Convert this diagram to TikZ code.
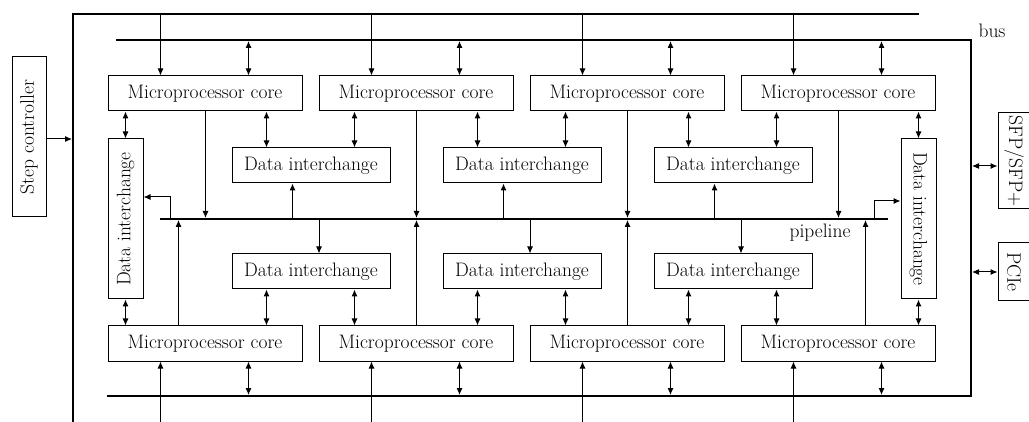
\documentclass[tikz,border=0pt]{standalone}
\usepackage{fontspec}
\setmainfont{Latin Modern Roman}
\usepackage{graphicx}
\usetikzlibrary{arrows.meta}
\begin{document}
\begin{tikzpicture}[x=1pt,y=-1pt,
  txt/.style={font=\fontsize{19.5}{22}\selectfont},
  box/.style={draw,line width=1pt,inner sep=0pt,txt},
  core/.style={box,minimum width=194pt,minimum height=35pt},
  dx/.style={box,minimum width=158pt,minimum height=35pt},
  vdx/.style={box,minimum width=35pt,minimum height=160pt},
  tip/.tip={Latex[length=7pt,width=6pt]},
  arr/.style={line width=1pt,-tip},
  bi/.style={line width=1pt,tip-tip},
  heavy/.style={line width=2.2pt},
  lbl/.style={txt,inner sep=0pt}]
\useasboundingbox (0,0) rectangle (1029,422);

% processor cores
\foreach \i/\x in {1/205,2/416,3/627,4/838}{
  \node[core] (ct\i) at (\x,93.5) {Microprocessor core};
  \node[core] (cb\i) at (\x,343.5) {Microprocessor core};
}
% data interchange blocks
\foreach \i/\x in {1/311,2/522,3/733}{
  \node[dx] (dt\i) at (\x,165.5) {Data interchange};
  \node[dx] (db\i) at (\x,271.5) {Data interchange};
}
\node[vdx] (dl) at (125.5,219) {\rotatebox{90}{Data interchange}};
\node[vdx] (dr) at (918.5,219) {\rotatebox{-90}{Data interchange}};
\node[box,minimum width=34pt,minimum height=160pt] (sc) at (29,137) {\rotatebox{90}{Step controller}};
\node[box,minimum width=32pt,minimum height=96pt] (sfp) at (1014,161) {\rotatebox{-90}{SFP/SFP+}};
\node[box,minimum width=32pt,minimum height=58pt] (pcie) at (1014,272) {\rotatebox{-90}{PCIe}};

% outer control line, bus and pipeline
\coordinate (oTop) at (919,14);
\coordinate (oCorner) at (73,14);
\coordinate (oBot) at (73,425);
\draw[heavy] (oBot) -- (oCorner) -- (oTop);
\coordinate (bA) at (116,40);
\coordinate (bB) at (971,40);
\coordinate (bC) at (971,396);
\coordinate (bD) at (107,396);
\draw[heavy] (bA) -- (bB) -- (bC) -- (bD);
\coordinate (pA) at (160,219);
\coordinate (pB) at (888,219);
\draw[heavy] (pA) -- (pB);

\node[lbl] (buslbl) at (992,31) {bus};
\node[lbl] (pipelbl) at (820,233) {pipeline};

% core links to control line, bus and pipeline
\foreach \i in {1,...,4}{
  \draw[arr,shorten <=-1pt] ([xshift=53pt]ct\i.north west |- oTop) -- ([xshift=53pt]ct\i.north west);
  \draw[bi,shorten <=1pt] ([xshift=141pt]ct\i.north west |- bA) -- ([xshift=141pt]ct\i.north west);
  \draw[arr,shorten >=1pt] ([xshift=98pt]ct\i.south west) -- ([xshift=98pt]ct\i.south west |- pA);
  \draw[arr] ([xshift=53pt]cb\i.south west |- oBot) -- ([xshift=53pt]cb\i.south west);
  \draw[bi,shorten >=1pt] ([xshift=141pt]cb\i.south west) -- ([xshift=141pt]cb\i.south west |- bD);
}
\foreach \i/\d in {1/71,2/98,3/98,4/125}
  \draw[arr,shorten >=1pt] ([xshift=\d pt]cb\i.north west) -- ([xshift=\d pt]cb\i.north west |- pA);

% links between cores, data interchange blocks and pipeline
\foreach \i/\a/\b in {1/1/2,2/2/3,3/3/4}{
  \draw[bi] ([xshift=35pt]dt\i.north west |- ct\a.south) -- ([xshift=35pt]dt\i.north west);
  \draw[bi] ([xshift=123pt]dt\i.north west |- ct\b.south) -- ([xshift=123pt]dt\i.north west);
  \draw[arr,shorten <=1pt] ([xshift=61pt]dt\i.south west |- pA) -- ([xshift=61pt]dt\i.south west);
  \draw[arr,shorten <=1pt] ([xshift=87.5pt]db\i.north west |- pA) -- ([xshift=87.5pt]db\i.north west);
  \draw[bi] ([xshift=35pt]db\i.south west) -- ([xshift=35pt]db\i.south west |- cb\a.north);
  \draw[bi] ([xshift=123pt]db\i.south west) -- ([xshift=123pt]db\i.south west |- cb\b.north);
}
\draw[bi] (dl.north |- ct1.south) -- (dl.north);
\draw[bi] (dl.south) -- (dl.south |- cb1.north);
\draw[bi] (dr.north |- ct4.south) -- (dr.north);
\draw[bi] (dr.south) -- (dr.south |- cb4.north);

\coordinate (tapL) at (170,219);
\coordinate (tapR) at (874,219);
\draw[arr] (tapL) |- ([yshift=22pt]dl.east);
\draw[arr] (tapR) |- ([yshift=18pt]dr.west);

% external interfaces
\draw[arr,shorten >=1pt] ([yshift=-2pt]sc.east) -- ([yshift=-2pt]sc.east -| oCorner);
\draw[bi,shorten <=1pt] ([yshift=-5pt]sfp.west -| bB) -- ([yshift=-5pt]sfp.west);
\draw[bi,shorten <=1pt] (pcie.west -| bB) -- (pcie.west);
\end{tikzpicture}
\end{document}
